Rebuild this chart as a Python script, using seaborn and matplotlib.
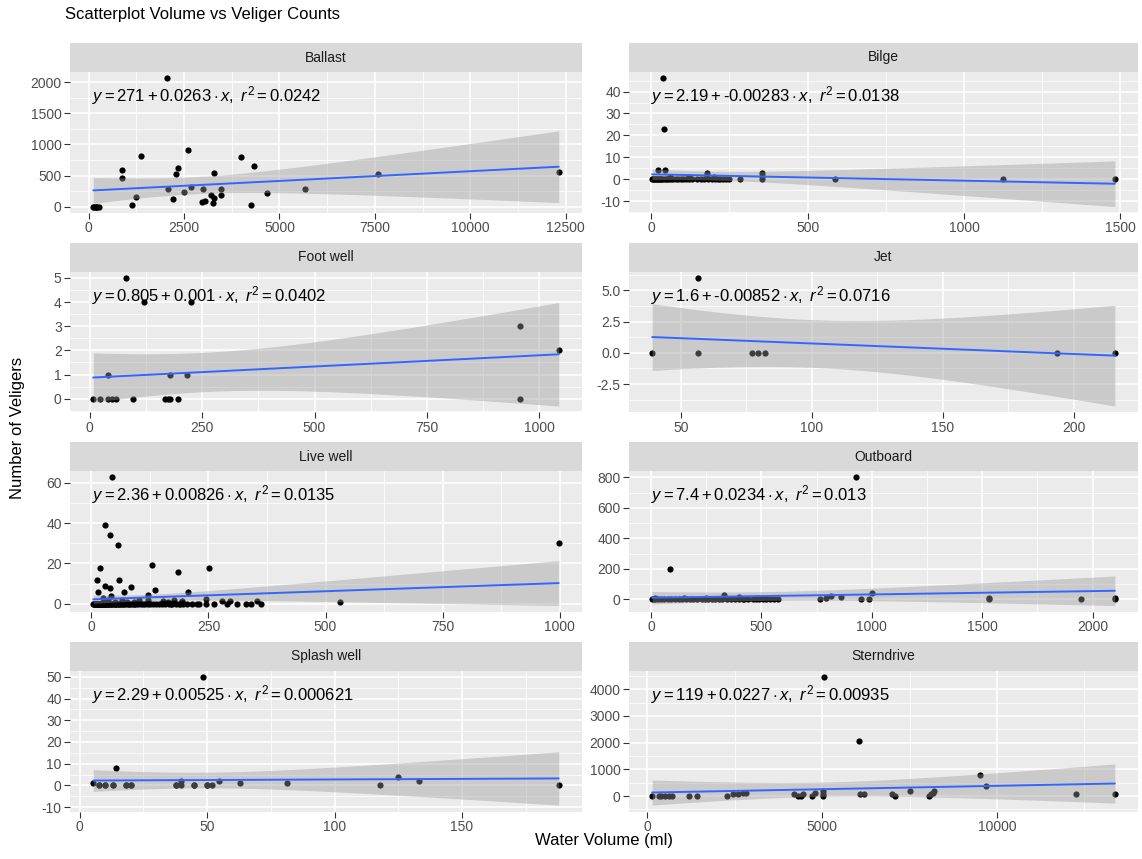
import numpy as np
import matplotlib
matplotlib.use("Agg")
import matplotlib.pyplot as plt
from matplotlib.patches import Rectangle
from matplotlib.ticker import MultipleLocator, FuncFormatter
import seaborn as sns

# facet names, in ggplot order
panels = ["Ballast", "Bilge", "Foot well", "Jet", "Live well", "Outboard", "Splash well", "Sterndrive"]

ballast_x = [150, 200, 260, 180, 230, 120, 880, 880, 1125, 1250, 1370, 2055, 2085, 2220, 2280, 2350, 2500, 2600, 2690,
             2960, 2985, 3050, 3210, 3250, 3280, 3280, 3470, 3470, 3990, 4250, 4320, 4675, 5670, 7580, 12320]
ballast_y = [0, 0, 0, 0, 0, 0, 590, 455, 25, 160, 815, 2063, 280, 123, 520, 615, 240, 910, 320,
             80, 280, 95, 190, 65, 135, 535, 280, 190, 795, 25, 655, 225, 280, 525, 550]

bilge_x = [3, 6, 9, 12, 15, 18, 21, 25, 28, 32, 36, 42, 48, 52, 58, 64, 70, 78, 86, 95,
           102, 112, 122, 132, 145, 160, 170, 182, 195, 205, 212, 220, 230, 240, 250, 285, 355, 586, 1124, 1482,
           37, 40, 22, 45, 178, 178, 355, 355, 60, 120, 200]
bilge_y = [0, 0, 0, 0, 0, 0, 0, 0, 0, 0, 0, 0, 0, 0, 0, 0, 0, 0, 0, 0,
           0, 0, 0, 0, 0, 0, 0, 0, 0, 0, 0, 0, 0, 0, 0, 0, 0, 0, 0, 0,
           46, 23, 4, 4, 3, 1, 3, 1.5, 1, 1, 1]

foot_x = [8, 23, 40, 50, 59, 41, 80, 96, 120, 168, 174, 179, 178, 197, 216, 225, 957, 957, 1043]
foot_y = [0, 0, 0, 0, 0, 1, 5, 0, 4, 0, 0, 0, 1, 0, 1, 4, 3, 0, 2]

jet_x = [39, 56.4, 56.4, 77, 79.3, 82.1, 193.6, 215.7]
jet_y = [0, 6, 0, 0, 0, 0, 0, 0]

live_x = [45, 29.5, 40, 57, 19, 11, 59, 13.5, 29.5, 40, 41, 69, 85, 129, 135, 120, 185, 206, 251, 245,
          279, 297, 354, 530, 998, 65, 153, 177, 193, 163, 101, 121, 24, 35, 50, 75, 90,
          4, 6, 8, 10, 12, 14, 16, 18, 20, 22, 24, 26, 28, 30, 32, 34, 36, 38, 40,
          42, 45, 48, 50, 53, 56, 60, 63, 66, 70, 74, 78, 82, 86, 90, 95, 100, 105, 110, 115,
          120, 126, 132, 138, 145, 150, 158, 165, 172, 180, 188, 196, 205, 215, 225, 245, 340,
          5, 7, 9, 11, 13, 15, 17, 19, 21, 23, 25, 27, 31, 35, 44, 52, 58, 68, 80, 92,
          230, 262, 290, 312, 330, 362, 190, 170]
live_y = [62.6, 39, 34, 29, 17.6, 12, 12, 6, 9, 8, 4, 6, 8.5, 19, 7, 4.6, 16, 6, 17.6, 2.5,
          1.3, 1.3, 1.3, 1, 30, 2, 1.3, 2, 1.3, 1, 2, 2, 3, 2, 1, 1, 1,
          0, 0, 0, 0, 0, 0, 0, 0, 0, 0, 0, 0, 0, 0, 0, 0, 0, 0, 0,
          0, 0, 0, 0, 0, 0, 0, 0, 0, 0, 0, 0, 0, 0, 0, 0, 0, 0, 0, 0,
          0, 0, 0, 0, 0, 0, 0, 0, 0, 0, 0, 0, 0, 0, 0, 0, 0,
          0, 0, 0, 0, 0, 0, 0, 0, 0, 0, 0, 0, 0, 0, 0, 0, 0, 0, 0, 0,
          0, 0, 0, 0, 0, 0, 0, 0]

outboard_x = [927, 88, 332, 794, 814, 860, 1002, 1533, 2101, 20, 150, 250, 400, 480,
              5, 12, 20, 30, 45, 60, 75, 90, 110, 125, 140, 160, 175, 190, 210, 230, 245, 260, 275, 290,
              310, 320, 345, 360, 380, 400, 415, 420, 440, 460, 475, 490, 505, 520, 540, 555, 575, 764, 950, 988,
              1533, 1947, 2101]
outboard_y = [800, 200, 28, 10, 20, 17, 39, 10, 10, 10, 5, 8, 12, 6,
              0, 0, 0, 0, 0, 0, 0, 0, 0, 0, 0, 0, 0, 0, 0, 0, 0, 0, 0, 0,
              0, 0, 0, 0, 0, 0, 0, 0, 0, 0, 0, 0, 0, 0, 0, 0, 0, 0, 0, 0,
              0, 0, 0]

splash_x = [5.3, 7.5, 10, 12.9, 14.1, 18, 20, 37.9, 39.8, 39.8, 45, 48.2, 50, 52, 54.8, 63, 81.2, 118, 124.9, 133, 188,
            7.5, 10, 12.9, 18, 20, 37.9, 45, 50]
splash_y = [1, 0, 0, 0, 8, 0, 0, 0, 0, 2, 0, 50, 0, 0, 2, 1, 1, 0, 4, 2, 0,
            0, 0, 0, 0, 0, 0, 0, 0]

stern_x = [136, 346, 399, 503, 608, 692, 1185, 1427, 2287, 2444, 2580, 2727, 2832, 4196, 4300, 4405, 4458,
           4700, 4783, 5014, 5035, 5035, 5067, 6063, 6084, 6189, 6986, 7091, 7510, 8056, 8108, 8182, 8213,
           9525, 9682, 12252, 13374]
stern_y = [0, 0, 0, 0, 0, 0, 0, 0, 0, 60, 90, 125, 125, 60, 0, 0, 60,
           0, 125, 60, 0, 190, 4462, 2075, 60, 60, 60, 0, 190, 0, 60, 125, 190,
           790, 375, 60, 60]

xs_all = [ballast_x, bilge_x, foot_x, jet_x, live_x, outboard_x, splash_x, stern_x]
ys_all = [ballast_y, bilge_y, foot_y, jet_y, live_y, outboard_y, splash_y, stern_y]

eq_text = [
    r"$y = 271 + 0.0263 \cdot x,\ r^2 = 0.0242$",
    r"$y = 2.19 + \text{-}0.00283 \cdot x,\ r^2 = 0.0138$",
    r"$y = 0.805 + 0.001 \cdot x,\ r^2 = 0.0402$",
    r"$y = 1.6 + \text{-}0.00852 \cdot x,\ r^2 = 0.0716$",
    r"$y = 2.36 + 0.00826 \cdot x,\ r^2 = 0.0135$",
    r"$y = 7.4 + 0.0234 \cdot x,\ r^2 = 0.013$",
    r"$y = 2.29 + 0.00525 \cdot x,\ r^2 = 0.000621$",
    r"$y = 119 + 0.0227 \cdot x,\ r^2 = 0.00935$",
]

x_steps = [2500, 500, 250, 50, 250, 500, 50, 5000]
y_steps = [500, 10, 1, 2.5, 20, 200, 10, 1000]

sns.set_theme(style="darkgrid")
plt.rcParams["font.family"] = ["Liberation Sans", "DejaVu Sans"]
plt.rcParams["mathtext.fontset"] = "custom"
plt.rcParams["mathtext.rm"] = "Liberation Sans"
plt.rcParams["mathtext.it"] = "Liberation Sans:italic"
plt.rcParams["axes.unicode_minus"] = False


def t95(df):
    try:
        from scipy import stats
        return stats.t.ppf(0.975, df)
    except ImportError:
        z = 1.959964
        return z + (z**3 + z) / (4 * df) + (5 * z**5 + 16 * z**3 + 3 * z) / (96 * df**2)


def draw_panel(ax, x, y, name, label, xstep, ystep):
    x = np.asarray(x, float)
    y = np.asarray(y, float)
    n = len(x)
    slope, icpt = np.polyfit(x, y, 1)
    grid = np.linspace(x.min(), x.max(), 80)
    fit = icpt + slope * grid
    resid = y - (icpt + slope * x)
    s = np.sqrt((resid ** 2).sum() / (n - 2))
    se = s * np.sqrt(1 / n + (grid - x.mean()) ** 2 / ((x - x.mean()) ** 2).sum())
    lo = fit - t95(n - 2) * se
    hi = fit + t95(n - 2) * se

    ax.set_facecolor("#EBEBEB")
    sns.scatterplot(x=x, y=y, ax=ax, color="black", s=20, linewidth=0, zorder=2)
    ax.fill_between(grid, lo, hi, color="#999999", alpha=0.4, linewidth=0, zorder=3)
    sns.lineplot(x=grid, y=fit, ax=ax, color="#3366FF", lw=1.4, zorder=4)

    xr = x.max() - x.min()
    ax.set_xlim(x.min() - 0.05 * xr, x.max() + 0.05 * xr)
    ymin = min(y.min(), lo.min())
    ymax = max(y.max(), hi.max())
    yr = ymax - ymin
    ax.set_ylim(ymin - 0.05 * yr, ymax + 0.05 * yr)

    ax.xaxis.set_major_locator(MultipleLocator(xstep))
    ax.xaxis.set_minor_locator(MultipleLocator(xstep / 2))
    ax.yaxis.set_major_locator(MultipleLocator(ystep))
    ax.yaxis.set_minor_locator(MultipleLocator(ystep / 2))
    if name == "Jet":
        ax.yaxis.set_major_formatter(FuncFormatter(lambda v, p: "%.1f" % v))
    else:
        ax.yaxis.set_major_formatter(FuncFormatter(lambda v, p: "%g" % v))
    ax.xaxis.set_major_formatter(FuncFormatter(lambda v, p: "%g" % v))

    ax.grid(which="major", color="white", lw=1.1)
    ax.grid(which="minor", color="white", lw=0.55)
    ax.set_axisbelow(True)
    for sp in ax.spines.values():
        sp.set_visible(False)
    ax.tick_params(which="major", length=4, width=0.8, color="#333333", labelcolor="#4D4D4D",
                   labelsize=10, pad=2, bottom=True, left=True)
    ax.tick_params(which="minor", length=0)
    ax.set_xlabel("")
    ax.set_ylabel("")

    strip_h = 29 / 141
    ax.add_patch(Rectangle((0, 1), 1, strip_h, transform=ax.transAxes, clip_on=False,
                           facecolor="#D9D9D9", edgecolor="none"))
    ax.text(0.5, 1 + strip_h / 2, name, transform=ax.transAxes, ha="center", va="center",
            fontsize=10, color="#1A1A1A")
    ax.text(0.043, 0.83, label, transform=ax.transAxes, ha="left", va="center",
            fontsize=12, color="black", zorder=6)


W, H = 1142, 859
fig = plt.figure(figsize=(W / 100, H / 100), dpi=100)
fig.patch.set_facecolor("white")

col_left = [70, 629]
col_width = [512, 509]
panel_h = 141

for i, name in enumerate(panels):
    r, c = divmod(i, 2)
    top = 72 + 199.5 * r
    ax = fig.add_axes([col_left[c] / W, 1 - (top + panel_h) / H, col_width[c] / W, panel_h / H])
    draw_panel(ax, xs_all[i], ys_all[i], name, eq_text[i], x_steps[i], y_steps[i])

fig.text(65 / W, 1 - 15 / H, "Scatterplot Volume vs Veliger Counts", ha="left", va="center",
         fontsize=12, color="black")
fig.text(18 / W, 1 - 428 / H, "Number of Veligers", rotation=90, ha="center", va="center",
         fontsize=12, color="black")
fig.text(604 / W, 1 - 840 / H, "Water Volume (ml)", ha="center", va="center",
         fontsize=12, color="black")

fig.savefig("out.png", dpi=100)
